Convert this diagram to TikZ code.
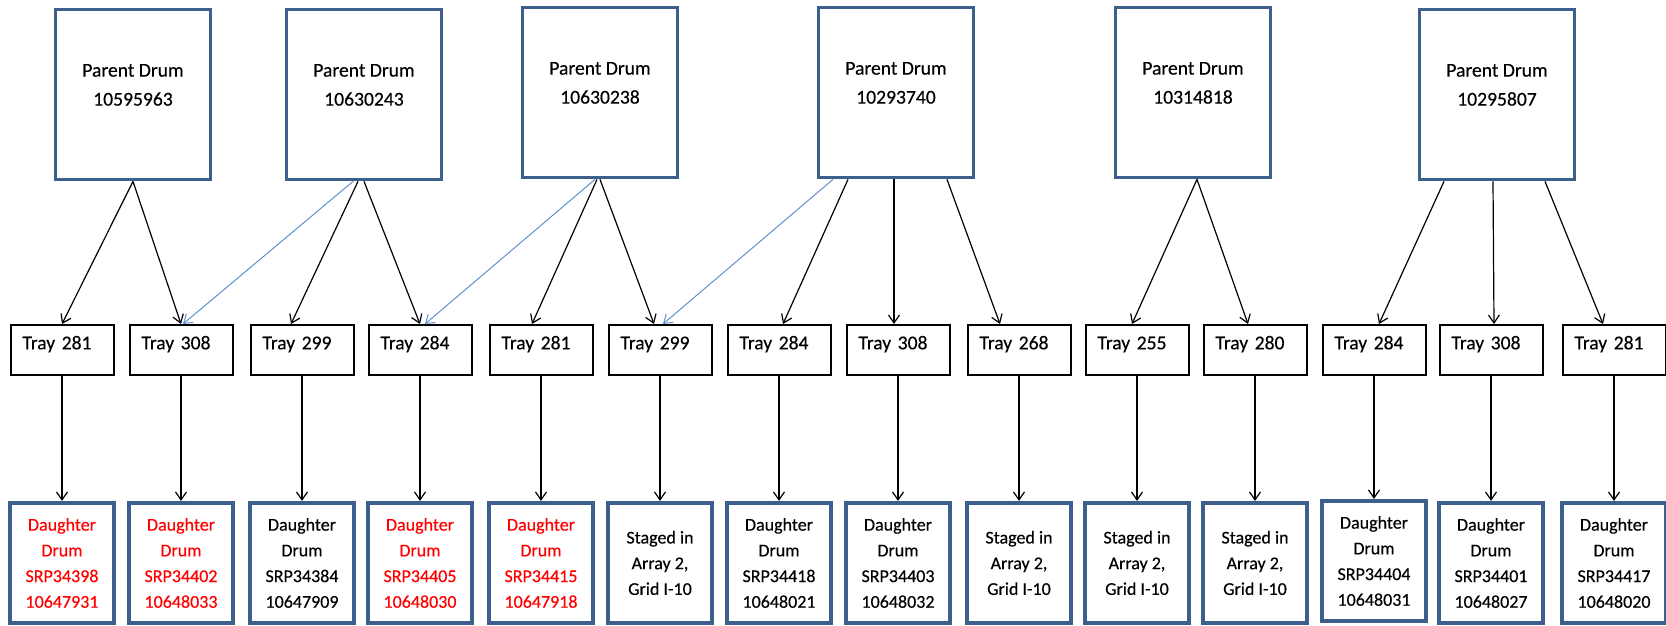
\documentclass[tikz,border=0pt]{standalone}
\usepackage{fontspec}
\setmainfont{Carlito}[FakeBold=0.35]
\usepackage{xcolor}
\usepackage{tikz}
\usetikzlibrary{arrows.meta,calc}
\definecolor{drumblue}{RGB}{60,95,140}
\definecolor{linkblue}{RGB}{95,145,210}
\definecolor{drumred}{RGB}{255,0,0}

\begin{document}
\begin{tikzpicture}[x=0.5pt,y=-0.5pt,
  parent/.style={draw=drumblue,line width=1.9pt,fill=white,minimum width=77.5pt,minimum height=85pt,inner sep=0pt},
  ptext/.style={align=center,font=\fontsize{9.8}{14.5}\selectfont,yshift=4.8pt},
  tray/.style={draw=black,line width=1pt,fill=white,text width=39.5pt,inner xsep=6pt,inner ysep=0pt,
    minimum height=25pt,align=left,text height=6pt,text depth=6.7pt,font=\fontsize{9.8}{12}\selectfont},
  daughter/.style={draw=drumblue,line width=1.8pt,fill=white,minimum width=51.75pt,minimum height=60.25pt,
    inner sep=0pt,align=center,font=\fontsize{9}{12.85}\selectfont},
  lost/.style={daughter,text=drumred},
  link/.style={-{Straight Barb[length=4pt,width=5.5pt]},line width=0.6pt,black},
  xlink/.style={link,draw=linkblue,line width=0.5pt}]
  \useasboundingbox (0,0) rectangle (1666,626);
  \clip (0,0) rectangle (1666,626);

  % parent drums
  \node[parent,label={[ptext,name=p1l]center:{Parent Drum\\10595963}}] (p1) at (133,94.5) {};
  \node[parent,label={[ptext,name=p2l]center:{Parent Drum\\10630243}}] (p2) at (364,94.5) {};
  \node[parent,label={[ptext,name=p3l]center:{Parent Drum\\10630238}}] (p3) at (600,92.5) {};
  \node[parent,label={[ptext,name=p4l]center:{Parent Drum\\10293740}}] (p4) at (896,92.5) {};
  \node[parent,label={[ptext,name=p5l]center:{Parent Drum\\10314818}}] (p5) at (1193,92.5) {};
  \node[parent,label={[ptext,name=p6l]center:{Parent Drum\\10295807}}] (p6) at (1497,94.5) {};

  % trays
  \node[tray] (t1) at (62,350) {Tray 281};
  \node[tray] (t2) at (181,350) {Tray 308};
  \node[tray] (t3) at (302,350) {Tray 299};
  \node[tray] (t4) at (420,350) {Tray 284};
  \node[tray] (t5) at (541,350) {Tray 281};
  \node[tray] (t6) at (660,350) {Tray 299};
  \node[tray] (t7) at (779,350) {Tray 284};
  \node[tray] (t8) at (898,350) {Tray 308};
  \node[tray] (t9) at (1019,350) {Tray 268};
  \node[tray] (t10) at (1137,350) {Tray 255};
  \node[tray] (t11) at (1255,350) {Tray 280};
  \node[tray] (t12) at (1374,350) {Tray 284};
  \node[tray] (t13) at (1491,350) {Tray 308};
  \node[tray] (t14) at (1614,350) {Tray 281};

  % daughter drums
  \node[lost] (d1) at (62,563) {Daughter\\Drum\\SRP34398\\10647931};
  \node[lost] (d2) at (181,563) {Daughter\\Drum\\SRP34402\\10648033};
  \node[daughter] (d3) at (302,563) {Daughter\\Drum\\SRP34384\\10647909};
  \node[lost] (d4) at (420,563) {Daughter\\Drum\\SRP34405\\10648030};
  \node[lost] (d5) at (541,563) {Daughter\\Drum\\SRP34415\\10647918};
  \node[daughter] (d6) at (660,563) {Staged in\\Array 2,\\Grid I-10};
  \node[daughter] (d7) at (779,563) {Daughter\\Drum\\SRP34418\\10648021};
  \node[daughter] (d8) at (898,563) {Daughter\\Drum\\SRP34403\\10648032};
  \node[daughter] (d9) at (1019,563) {Staged in\\Array 2,\\Grid I-10};
  \node[daughter] (d10) at (1137,563) {Staged in\\Array 2,\\Grid I-10};
  \node[daughter] (d11) at (1255,563) {Staged in\\Array 2,\\Grid I-10};
  \node[daughter] (d12) at (1374,561) {Daughter\\Drum\\SRP34404\\10648031};
  \node[daughter] (d13) at (1491,563) {Daughter\\Drum\\SRP34401\\10648027};
  \node[daughter] (d14) at (1614,563) {Daughter\\Drum\\SRP34417\\10648020};

  % parent -> tray
  \draw[link] (p1.south) -- (t1.north);
  \draw[link] (p1.south) -- (t2.north);
  \draw[xlink] ($(p2.south)+(-11,0)$) -- ($(t2.north)+(2,0)$);
  \draw[link] ($(p2.south)+(-6,0)$) -- ($(t3.north)+(-11,0)$);
  \draw[link] (p2.south) -- (t4.north);
  \draw[xlink] ($(p3.south)+(-5,0)$) -- ($(t4.north)+(5,0)$);
  \draw[link] ($(p3.south)+(-3,0)$) -- ($(t5.north)+(-9,0)$);
  \draw[link] (p3.south) -- ($(t6.north)+(-6,0)$);
  \draw[xlink] ($(p4.south)+(-63,0)$) -- ($(t6.north)+(3,0)$);
  \draw[link] ($(p4.south)+(-48,0)$) -- ($(t7.north)+(4,0)$);
  \draw[link] ($(p4.south)+(-2,0)$) -- ($(t8.north)+(-4,0)$);
  \draw[link] ($(p4.south)+(51,0)$) -- ($(t9.north)+(-19,0)$);
  \draw[link] ($(p5.south)+(4,0)$) -- ($(t10.north)+(-5,0)$);
  \draw[link] ($(p5.south)+(4,0)$) -- ($(t11.north)+(-7,0)$);
  \draw[link] ($(p6.south)+(-53,0)$) -- ($(t12.north)+(5,0)$);
  \draw[link] ($(p6.south)+(-4,0)$) -- ($(t13.north)+(3,0)$);
  \draw[link] ($(p6.south)+(48,0)$) -- ($(t14.north)+(-11,0)$);

  % tray -> daughter
  \draw[link] (t1.south) -- (d1.north);
  \draw[link] (t2.south) -- (d2.north);
  \draw[link] (t3.south) -- (d3.north);
  \draw[link] (t4.south) -- (d4.north);
  \draw[link] (t5.south) -- (d5.north);
  \draw[link] (t6.south) -- (d6.north);
  \draw[link] (t7.south) -- (d7.north);
  \draw[link] (t8.south) -- (d8.north);
  \draw[link] (t9.south) -- (d9.north);
  \draw[link] (t10.south) -- (d10.north);
  \draw[link] (t11.south) -- (d11.north);
  \draw[link] (t12.south) -- (d12.north);
  \draw[link] (t13.south) -- (d13.north);
  \draw[link] (t14.south) -- (d14.north);
\end{tikzpicture}
\end{document}
